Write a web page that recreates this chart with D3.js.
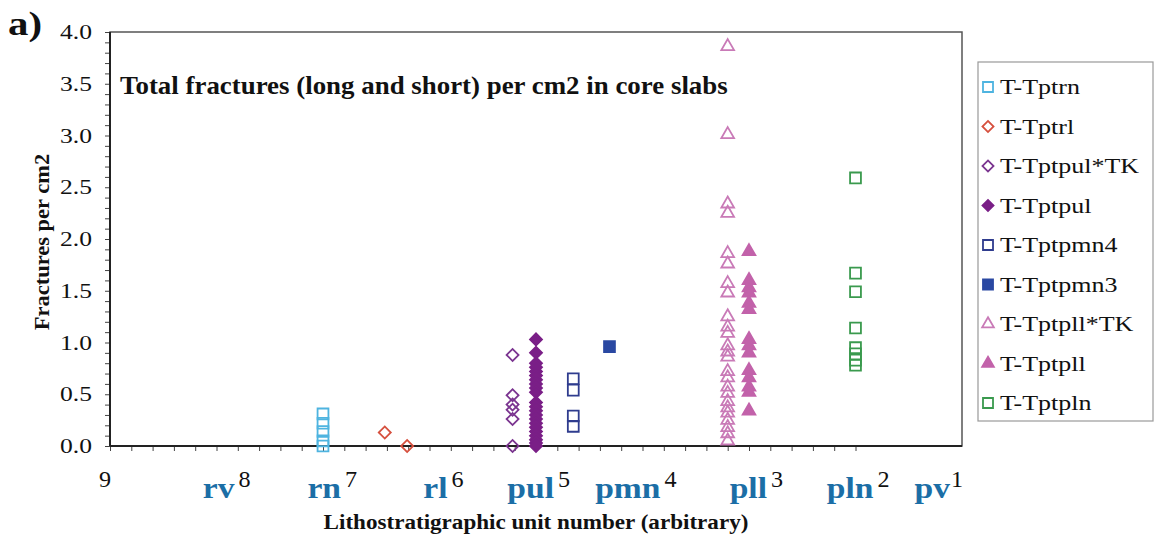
<!DOCTYPE html>
<html><head><meta charset="utf-8">
<script src="https://cdn.jsdelivr.net/npm/d3@7"></script>
<style>
html,body{margin:0;padding:0;background:#fff;}
svg{display:block;}
text{font-family:"Liberation Serif","Times New Roman",serif;}
</style></head>
<body>
<svg id="c" width="1161" height="543"></svg>
<script>
// ---- data ----
const unitNumbers = [9, 8, 7, 6, 5, 4, 3, 2, 1];
const unitNames   = ["", "rv", "rn", "rl", "pul", "pmn", "pll", "pln", "pv"];
const yTicks = [0, 0.5, 1.0, 1.5, 2.0, 2.5, 3.0, 3.5, 4.0];

const seriesNames = ["T-Tptrn","T-Tptrl","T-Tptpul*TK","T-Tptpul","T-Tptpmn4","T-Tptpmn3","T-Tptpll*TK","T-Tptpll","T-Tptpln"];

const tptrnX = [7, 7, 7, 7, 7];
const tptrnY = [0.31, 0.22, 0.14, 0.05, 0.0];
const tptrlX = [6.42, 6.21];
const tptrlY = [0.13, 0.0];
const tptpulTKX = [5.22, 5.22, 5.22, 5.22, 5.22, 5.22];
const tptpulTKY = [0.88, 0.49, 0.40, 0.35, 0.26, 0.0];
const tptpulX = Array(22).fill(5.0);
const tptpulY = [1.03, 0.90, 0.80, 0.76, 0.72, 0.68, 0.64, 0.60, 0.56, 0.52, 0.42, 0.38, 0.34, 0.30, 0.26, 0.22, 0.18, 0.14, 0.10, 0.06, 0.03, 0.0];
const tptpmn4X = [4.65, 4.65, 4.65, 4.65];
const tptpmn4Y = [0.65, 0.54, 0.29, 0.19];
const tptpmn3X = [4.31];
const tptpmn3Y = [0.96];
const tptpllTKX = Array(25).fill(3.2);
const tptpllTKY = [3.86, 3.01, 2.34, 2.25, 1.86, 1.76, 1.57, 1.48, 1.25, 1.15, 1.09, 0.97, 0.91, 0.86, 0.72, 0.66, 0.57, 0.51, 0.43, 0.37, 0.32, 0.25, 0.18, 0.12, 0.05];
const tptpllX = Array(14).fill(3.0);
const tptpllY = [1.88, 1.60, 1.53, 1.48, 1.38, 1.32, 1.03, 0.97, 0.90, 0.73, 0.66, 0.57, 0.52, 0.34];
const tptplnX = Array(8).fill(2.0);
const tptplnY = [2.59, 1.67, 1.49, 1.14, 0.95, 0.89, 0.83, 0.78];

// ---- styles ----
const seriesStyle = [
  {shape:"square",  color:"#4eb4e0", filled:false},
  {shape:"diamond", color:"#d6503e", filled:false},
  {shape:"diamond", color:"#7b3590", filled:false},
  {shape:"diamond", color:"#7a1f87", filled:true},
  {shape:"square",  color:"#2f3c8e", filled:false},
  {shape:"square",  color:"#2a48a2", filled:true},
  {shape:"triangle",color:"#c97ab7", filled:false},
  {shape:"triangle",color:"#c262aa", filled:true},
  {shape:"square",  color:"#3a9a4e", filled:false}
];
const seriesPoints = [
  [tptrnX,tptrnY],[tptrlX,tptrlY],[tptpulTKX,tptpulTKY],[tptpulX,tptpulY],
  [tptpmn4X,tptpmn4Y],[tptpmn3X,tptpmn3Y],[tptpllTKX,tptpllTKY],[tptpllX,tptpllY],[tptplnX,tptplnY]
];

const svg = d3.select("#c");
const L = 110, R = 962, T = 32, B = 446;
const x = d3.scaleLinear().domain([9, 1]).range([L, R]);
const y = d3.scaleLinear().domain([0, 4]).range([B, T]);

function addText(parent, px, py, str, o) {
  const g = parent.append("g").attr("transform", `translate(${px},${py})` + (o.rotate ? ` rotate(${o.rotate})` : ""));
  return g.append("text")
    .attr("transform", `scale(${o.sx || 1},1)`)
    .attr("text-anchor", o.anchor || "start")
    .attr("font-size", o.size)
    .attr("font-weight", o.bold ? "bold" : "normal")
    .attr("fill", o.color || "#111")
    .text(str);
}

function symbolPath(shape, k) {
  if (shape === "square") return d3.symbol(d3.symbolSquare, 118 * k)();
  if (shape === "diamond") return d3.symbol(d3.symbolSquare, 72 * k)();
  return d3.symbol(d3.symbolTriangle, 70 * k)();
}
function drawMarker(parent, cx, cy, st, k) {
  parent.append("path")
    .attr("d", symbolPath(st.shape, k || 1))
    .attr("transform", `translate(${cx},${cy})` + (st.shape === "diamond" ? " rotate(45)" : ""))
    .attr("fill", st.filled ? st.color : "#fff")
    .attr("fill-opacity", st.filled ? 1 : 0)
    .attr("stroke", st.color)
    .attr("stroke-width", 1.8);
}

// frame
svg.append("rect").attr("x", L).attr("y", T).attr("width", R - L).attr("height", B - T)
  .attr("fill", "none").attr("stroke", "#555").attr("stroke-width", 1.5);

// y axis
const yMinor = d3.range(0, 40.5, 1).map(d => d / 10);
const yAx = svg.append("g").attr("transform", `translate(${L},0)`);
yAx.call(d3.axisLeft(y).tickValues(yMinor).tickSize(5).tickFormat(""));
yAx.select(".domain").remove();
yAx.selectAll(".tick line").attr("stroke", "#444").attr("stroke-width", 1);
yTicks.forEach(v => {
  addText(svg, 92, y(v) + 7, d3.format(".1f")(v), {size: 20, anchor: "end", sx: 1.28});
});
svg.append("line").attr("x1", L).attr("x2", L).attr("y1", T).attr("y2", B).attr("stroke", "#222").attr("stroke-width", 2);

// x axis minor ticks
const xMinor = d3.range(10, 46, 1).map(d => d / 5);
const xAx = svg.append("g").attr("transform", `translate(0,${B})`);
xAx.call(d3.axisBottom(x).tickValues(xMinor).tickSize(5).tickFormat(""));
xAx.select(".domain").remove();
xAx.selectAll(".tick line").attr("stroke", "#444").attr("stroke-width", 1);
svg.append("line").attr("x1", L).attr("x2", R).attr("y1", B).attr("y2", B).attr("stroke", "#222").attr("stroke-width", 2);

// x labels (numbers + unit names)
unitNumbers.forEach((n, i) => {
  const edge = (n === 9 || n === 1);
  addText(svg, edge ? x(n) - 5 : x(n) + 28, 487, String(n), {size: 23, anchor: "middle", sx: 1.05});
  if (unitNames[i]) {
    addText(svg, n === 1 ? x(n) - 12 : x(n) + 18, 498, unitNames[i], {size: 30, anchor: "end", bold: true, color: "#1b6ea6", sx: 1.12});
  }
});

// axis titles
addText(svg, 536, 529, "Lithostratigraphic unit number (arbitrary)", {size: 21, anchor: "middle", bold: true, sx: 1.1});
addText(svg, 49, 242, "Fractures per cm2", {size: 21, anchor: "middle", bold: true, sx: 1.07, rotate: -90});
addText(svg, 8, 35, "a)", {size: 34, bold: true, sx: 1.2});

// chart title
addText(svg, 120, 94, "Total fractures (long and short) per cm2 in core slabs", {size: 26, bold: true, sx: 1.035});

// points
const pts = svg.append("g");
seriesPoints.forEach((p, si) => {
  const [xs, ys] = p;
  xs.forEach((xv, k) => drawMarker(pts, x(xv), y(ys[k]), seriesStyle[si]));
});

// legend
svg.append("rect").attr("x", 978).attr("y", 62).attr("width", 175).attr("height", 359)
  .attr("fill", "#fff").attr("stroke", "#999").attr("stroke-width", 1.2);
seriesNames.forEach((nm, i) => {
  const cy = 87 + i * 39.5;
  drawMarker(svg, 988, cy, seriesStyle[i], 0.85);
  addText(svg, 1000, cy + 7, nm, {size: 20, sx: 1.3});
});
</script>
</body></html>
